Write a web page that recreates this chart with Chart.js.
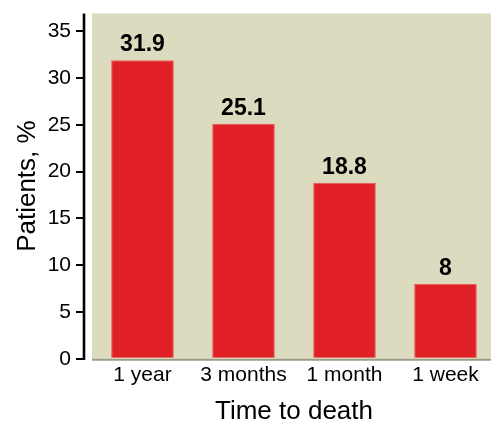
<!DOCTYPE html>
<html>
<head>
<meta charset="utf-8">
<script src="https://cdn.jsdelivr.net/npm/chart.js@4/dist/chart.umd.min.js"></script>
<style>
  html, body { margin: 0; padding: 0; background: #ffffff; overflow: hidden; }
  #wrap { width: 496px; height: 425px; }
</style>
</head>
<body>
<div id="wrap"><canvas id="chart" width="496" height="425"></canvas></div>
<script>
// Share of patients by time remaining before death
const categories = ['1 year', '3 months', '1 month', '1 week'];
const patientsPct = [31.9, 25.1, 18.8, 8];
const yTicks = [0, 5, 10, 15, 20, 25, 30, 35];

const FONT = '"Liberation Sans", Arial, Helvetica, sans-serif';
const PANEL = '#dcdbbf';
const AXIS_GAP = 8;

// Beige panel behind the bars, with the y axis drawn a little to its left
const panelPlugin = {
  id: 'panel',
  beforeDraw(chart) {
    const { ctx, chartArea: a } = chart;
    ctx.save();
    ctx.fillStyle = PANEL;
    ctx.fillRect(a.left, a.top, a.right - a.left, a.bottom - a.top);
    ctx.restore();
  },
  beforeDatasetsDraw(chart) {
    const { ctx, chartArea: a } = chart;
    ctx.save();
    // keep the gap between axis line and panel clear
    ctx.fillStyle = '#ffffff';
    ctx.fillRect(a.left - AXIS_GAP + 1, a.top - 20, AXIS_GAP - 1, a.bottom - a.top + 22);
    // vertical axis line
    ctx.strokeStyle = '#000000';
    ctx.lineWidth = 2.6;
    ctx.beginPath();
    ctx.moveTo(a.left - AXIS_GAP, a.top);
    ctx.lineTo(a.left - AXIS_GAP, a.bottom + 1);
    ctx.stroke();
    // baseline under the bars
    ctx.strokeStyle = '#9d9c88';
    ctx.lineWidth = 2;
    ctx.beginPath();
    ctx.moveTo(a.left, a.bottom + 1);
    ctx.lineTo(a.right, a.bottom + 1);
    ctx.stroke();
    ctx.restore();
  }
};

// Value printed above each bar
const valueLabels = {
  id: 'valueLabels',
  afterDatasetsDraw(chart) {
    const { ctx } = chart;
    const meta = chart.getDatasetMeta(0);
    ctx.save();
    ctx.font = 'bold 23px ' + FONT;
    ctx.fillStyle = '#000000';
    ctx.textAlign = 'center';
    ctx.textBaseline = 'alphabetic';
    meta.data.forEach((bar, i) => {
      ctx.fillText(String(chart.data.datasets[0].data[i]), bar.x, bar.y - 9);
    });
    ctx.restore();
  }
};

new Chart(document.getElementById('chart'), {
  type: 'bar',
  data: {
    labels: categories,
    datasets: [{
      data: patientsPct,
      backgroundColor: '#e11f27',
      borderColor: '#ea5a50',
      borderWidth: 1,
      borderSkipped: 'bottom',
      barPercentage: 0.62,
      categoryPercentage: 1.0
    }]
  },
  options: {
    responsive: false,
    animation: false,
    devicePixelRatio: 1,
    layout: { padding: { top: 12, right: 0, bottom: 0, left: 12 } },
    plugins: {
      legend: { display: false },
      tooltip: { enabled: false }
    },
    scales: {
      x: {
        grid: { display: false, drawTicks: false },
        border: { display: false },
        ticks: {
          color: '#000000',
          padding: 4,
          font: { family: FONT, size: 21 }
        },
        title: {
          display: true,
          text: 'Time to death',
          color: '#000000',
          padding: { top: 7, bottom: 0 },
          font: { family: FONT, size: 26, lineHeight: 1.0 }
        }
      },
      y: {
        min: 0,
        max: 36.9,
        afterBuildTicks(scale) {
          scale.ticks = yTicks.map(v => ({ value: v }));
        },
        afterFit(scale) {
          scale.width = 80;
        },
        grid: {
          drawOnChartArea: false,
          drawTicks: true,
          tickLength: 16,
          color: '#000000',
          lineWidth: 2
        },
        border: { display: false },
        ticks: {
          color: '#000000',
          padding: 5,
          font: { family: FONT, size: 21, lineHeight: 0.8 }
        },
        title: {
          display: true,
          text: 'Patients, %',
          color: '#000000',
          padding: { top: 0, bottom: 0 },
          font: { family: FONT, size: 26 }
        }
      }
    }
  },
  plugins: [panelPlugin, valueLabels]
});
</script>
</body>
</html>
